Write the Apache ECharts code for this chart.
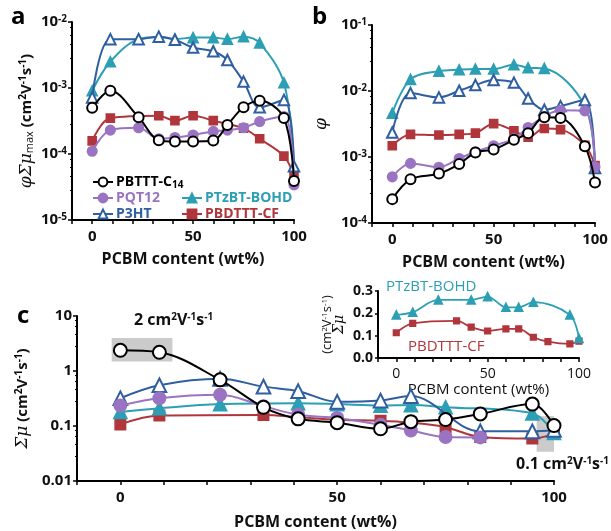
<!DOCTYPE html>
<html lang="en">
<head>
    <meta charset="UTF-8">
    <title>PCBM blends</title>
    <script src="https://cdn.jsdelivr.net/npm/echarts@6/dist/echarts.min.js"></script>
</head>
<body style="padding: 0; margin: 0; background: #fff">
<div id="main" style="width: 611px; height: 531px;"></div>
<script>
    // PCBM content (wt%) shared by every panel
    var pcbm = [0, 9, 23, 33, 41, 50, 60, 67, 75, 83, 95, 100];

    // panel a : phi * sum(mu) max
    var aPBTTT = [5.0e-4, 9.1e-4, 3.6e-4, 1.62e-4, 1.55e-4, 1.55e-4, 1.6e-4, 2.75e-4, 5.1e-4, 6.4e-4, 3.5e-4, 3.9e-5];
    var aPQT12 = [1.1e-4, 2.3e-4, 2.5e-4, 1.7e-4, 1.78e-4, 1.94e-4, 2.2e-4, 2.3e-4, 2.5e-4, 3.1e-4, 3.7e-4, 3.4e-5];
    var aP3HT = [7.2e-4, 5.5e-3, 5.5e-3, 6.0e-3, 5.4e-3, 4.1e-3, 3.6e-3, 2.65e-3, 1.25e-3, 5.1e-4, 6.6e-4, 6.5e-5];
    var aPTzBT = [9.1e-4, 2.5e-3, 5.5e-3, 5.9e-3, 5.5e-3, 5.8e-3, 5.8e-3, 5.5e-3, 6.0e-3, 4.8e-3, 1.2e-3, 6.5e-5];
    var aPBDTTT = [1.58e-4, 3.5e-4, null, 3.8e-4, 3.2e-4, 3.8e-4, 3.2e-4, null, 2.45e-4, 1.7e-4, 9.3e-5, 4.7e-5];

    // panel b : phi
    var bPBTTT = [2.3e-4, 4.6e-4, 5.6e-4, 7.8e-4, 1.17e-3, 1.3e-3, 1.82e-3, 2.3e-3, 4.0e-3, 3.9e-3, 1.45e-3, 4.1e-4];
    var bPQT12 = [5.0e-4, 8.0e-4, 7.0e-4, 9.5e-4, 1.2e-3, 1.48e-3, 1.9e-3, 2.8e-3, 4.1e-3, 5.1e-3, 5.0e-3, 7.1e-4];
    var bP3HT = [2.35e-3, 9.3e-3, 8.0e-3, 1.01e-2, 1.23e-2, 1.47e-2, 1.34e-2, 7.7e-3, 5.2e-3, 5.9e-3, 7.3e-3, 6.8e-4];
    var bPTzBT = [4.6e-3, 1.5e-2, 2.0e-2, 2.1e-2, 2.15e-2, 2.15e-2, 2.5e-2, 2.25e-2, 2.2e-2, null, 5.9e-3, 6.8e-4];
    var bPBDTTT = [1.48e-3, 2.2e-3, 2.15e-3, 2.2e-3, 2.3e-3, 3.2e-3, 2.5e-3, 2.0e-3, 2.7e-3, 2.6e-3, 1.5e-3, 7.4e-4];

    // panel c : sum(mu)
    var cPBTTT = [2.38, 2.19, 0.69, 0.219, 0.135, 0.115, 0.089, 0.12, 0.131, 0.166, 0.25, 0.102];
    var cPQT12 = [0.235, 0.32, 0.37, 0.23, 0.16, 0.14, 0.105, 0.083, 0.063, 0.062, null, null];
    var cP3HT = [0.32, 0.55, 0.72, 0.52, 0.43, 0.275, 0.29, 0.35, null, 0.08, 0.08, 0.085];
    var cPTzBT = [0.18, 0.21, 0.25, null, 0.26, 0.25, 0.235, 0.24, 0.22, null, 0.17, 0.075];
    var cPBDTTT = [0.107, 0.155, null, 0.159, 0.145, 0.13, 0.125, 0.115, 0.095, 0.063, 0.059, 0.072];

    // inset (linear)
    var iPTzBT = [0.193, 0.205, 0.26, null, 0.26, 0.275, 0.227, 0.227, 0.25, null, 0.193, 0.088];
    var iPBDTTT = [0.113, 0.155, null, 0.166, 0.138, 0.121, 0.130, 0.130, 0.093, 0.073, 0.063, 0.076];

    // grey highlight boxes in panel c  [x0, y0, x1, y1]
    var boxes = [[-2, 4.0, 12, 1.49], [96, 0.151, 103, 0.034]];

    var names = ['PBTTT-C14', 'PQT12', 'P3HT', 'PTzBT-BOHD', 'PBDTTT-CF'];
    var sty = {
        'PBTTT-C14': {color: '#000000', symbol: 'emptyCircle', size: 1.0},
        'PQT12': {color: '#9a74c2', symbol: 'circle', size: 0.95},
        'P3HT': {color: '#2f5fa0', symbol: 'emptyTriangle', size: 1.05},
        'PTzBT-BOHD': {color: '#2c9fb4', symbol: 'triangle', size: 1.0},
        'PBDTTT-CF': {color: '#b0363c', symbol: 'rect', size: 0.8}
    };

    var F = 'Open Sans';
    var sup = {fontSize: 10, fontWeight: 'bold', fontFamily: F, verticalAlign: 'top', lineHeight: 10};

    function pairs(ys) {
        return pcbm.map(function (x, i) { return [x, ys[i]]; }).filter(function (p) { return p[1] != null; });
    }

    function mk(name, ys, g, msize, extra) {
        var s = sty[name];
        var o = {
            name: name, type: 'line', xAxisIndex: g, yAxisIndex: g,
            data: pairs(ys), smooth: 0.35, symbol: s.symbol,
            symbolSize: msize * s.size, showSymbol: true,
            lineStyle: {color: s.color, width: 2},
            itemStyle: {color: s.color, borderColor: s.color, borderWidth: 1.6},
            z: 2 + names.length - names.indexOf(name)
        };
        if (extra) for (var k in extra) o[k] = extra[k];
        return o;
    }

    function xAx(g, fs, nameGap, bold) {
        return {
            gridIndex: g, type: 'value', min: -10, max: 100, interval: 10,
            name: 'PCBM content (wt%)', nameLocation: 'middle', nameGap: nameGap,
            nameTextStyle: {fontFamily: F, fontSize: fs + 1, fontWeight: bold ? 'bold' : 'normal', color: '#111'},
            axisLine: {onZero: false, lineStyle: {color: '#000', width: 2}},
            axisTick: {length: 4, lineStyle: {color: '#000', width: 1.5}},
            axisLabel: {
                margin: 9, fontFamily: F, fontSize: fs, fontWeight: bold ? 'bold' : 'normal', color: '#111',
                formatter: function (v) { return (v === 0 || v === 50 || v === 100) ? String(v) : ''; }
            },
            splitLine: {show: false}
        };
    }

    function yLog(g, mn, mx, fmt, nm, gap) {
        return {
            gridIndex: g, type: 'log', logBase: 10, min: mn, max: mx,
            name: nm, nameLocation: 'middle', nameGap: gap,
            axisLine: {onZero: false, lineStyle: {color: '#000', width: 2}},
            axisTick: {length: 4, lineStyle: {color: '#000', width: 1.5}},
            minorTick: {show: true, splitNumber: 5, length: 2, lineStyle: {color: '#000', width: 1}},
            axisLabel: {margin: 5, fontFamily: F, fontSize: 15, fontWeight: 'bold', color: '#111', formatter: fmt,
                rich: {s: sup}},
            splitLine: {show: false}
        };
    }

    function powFmt(v) {
        var e = Math.round(Math.log(v) / Math.LN10);
        return '10{s|' + e + '}';
    }
    function plainFmt(v) {
        var e = Math.round(Math.log(v) / Math.LN10);
        return e >= 0 ? String(Math.pow(10, e)) : Math.pow(10, e).toFixed(-e);
    }

    var myChart = echarts.init(document.getElementById('main'));

    var series = [];
    var panelA = [aPBTTT, aPQT12, aP3HT, aPTzBT, aPBDTTT];
    var panelB = [bPBTTT, bPQT12, bP3HT, bPTzBT, bPBDTTT];
    var panelC = [cPBTTT, cPQT12, cP3HT, cPTzBT, cPBDTTT];
    names.forEach(function (n, i) {
        series.push(mk(n, panelA[i], 0, 10));
        series.push(mk(n, panelB[i], 1, 10));
        var extra = null;
        if (i === 0) {
            extra = {
                markArea: {
                    silent: true,
                    itemStyle: {color: 'rgba(185,185,185,0.75)'},
                    data: boxes.map(function (b) { return [{xAxis: b[0], yAxis: b[1]}, {xAxis: b[2], yAxis: b[3]}]; })
                }
            };
        }
        series.push(mk(n, panelC[i], 2, 13, extra));
    });
    series.push(mk('PTzBT-BOHD', iPTzBT, 3, 8, {lineStyle: {color: sty['PTzBT-BOHD'].color, width: 1.8}}));
    series.push(mk('PBDTTT-CF', iPBDTTT, 3, 7, {lineStyle: {color: sty['PBDTTT-CF'].color, width: 1.8}}));

    var big = {fontFamily: F, fontSize: 15, fontWeight: 'bold', color: '#111'};
    var it = {fontFamily: 'DejaVu Serif', fontStyle: 'italic', fontSize: 17, color: '#111'};

    // one legend per entry so each row sits where the reference has it
    var legendPos = [
        ['PBTTT-C14', 87, 169], ['PQT12', 87, 185], ['P3HT', 87, 201],
        ['PTzBT-BOHD', 176, 185], ['PBDTTT-CF', 176, 201]
    ];
    var legends = legendPos.map(function (p) {
        return {
            left: p[1], top: p[2], itemWidth: 20, itemHeight: 11, selectedMode: false,
            data: [{name: p[0], textStyle: {color: sty[p[0]].color}}],
            textStyle: {fontFamily: F, fontSize: 14, fontWeight: 'bold', lineHeight: 16, padding: [0, 0, 0, -2],
                rich: {sub: {fontFamily: F, fontSize: 10, fontWeight: 'bold', verticalAlign: 'bottom', lineHeight: 10}}},
            formatter: function (n) { return n === 'PBTTT-C14' ? 'PBTTT-C{sub|14}' : n; }
        };
    });

    option = {
        animation: false,
        backgroundColor: '#fff',
        grid: [
            {left: 72, top: 22, width: 222, height: 198},
            {left: 372, top: 25, width: 223, height: 198},
            {left: 77, top: 316, width: 477, height: 167},
            {left: 378, top: 291, width: 201, height: 67}
        ],
        legend: legends,
        xAxis: [xAx(0, 15, 31, true), xAx(1, 15, 31, true), xAx(2, 15, 33, true), xAx(3, 14, 15, false)],
        yAxis: [
            Object.assign(yLog(0, 1e-5, 1e-2, powFmt,
                '{i|φΣμ}{m|max}{b| (cm}{s|2}{b|V}{s|-1}{b|s}{s|-1}{b|)}', 37), {
                nameTextStyle: {rich: {i: it, m: {fontFamily: F, fontSize: 11, color: '#111', verticalAlign: 'bottom', lineHeight: 12}, b: big, s: sup}}
            }),
            Object.assign(yLog(1, 1e-4, 1e-1, powFmt, '{i|φ}', 42), {
                nameTextStyle: {rich: {i: it}}
            }),
            Object.assign(yLog(2, 0.01, 10, plainFmt,
                '{i|Σμ}{b| (cm}{s|2}{b|V}{s|-1}{b|s}{s|-1}{b|)}', 40), {
                nameTextStyle: {rich: {i: it, b: big, s: sup}}
            }),
            {
                gridIndex: 3, type: 'value', min: 0, max: 0.3, interval: 0.1,
                name: '{b|(cm}{s|2}{b|V}{s|-1}{b|s}{s|-1}{b|)}\n{i|Σμ}', nameLocation: 'middle', nameGap: 33,
                nameTextStyle: {rich: {
                    i: {fontFamily: 'DejaVu Serif', fontStyle: 'italic', fontSize: 14, color: '#111', lineHeight: 12},
                    b: {fontFamily: F, fontSize: 13, color: '#111', lineHeight: 12},
                    s: {fontFamily: F, fontSize: 8, color: '#111', verticalAlign: 'top', lineHeight: 8}
                }},
                axisLine: {show: true, onZero: false, lineStyle: {color: '#000', width: 2}},
                axisTick: {show: true, length: 3, lineStyle: {color: '#000', width: 1.5}},
                axisLabel: {margin: 5, fontFamily: F, fontSize: 14, fontWeight: 'bold', color: '#111',
                    formatter: function (v) { return v.toFixed(1); }},
                splitLine: {show: false}
            }
        ],
        graphic: [
            {type: 'text', left: 11, top: 5, style: {text: 'a', font: 'bold 24px "Open Sans"', fill: '#000'}},
            {type: 'text', left: 312, top: 5, style: {text: 'b', font: 'bold 24px "Open Sans"', fill: '#000'}},
            {type: 'text', left: 17, top: 304, style: {text: 'c', font: 'bold 24px "Open Sans"', fill: '#000'}},
            {type: 'text', left: 134, top: 312, style: {
                text: '{b|2 cm}{s|2}{b|V}{s|-1}{b|s}{s|-1}',
                rich: {b: {font: 'bold 16px "Open Sans"', fill: '#111'}, s: {font: 'bold 10px "Open Sans"', fill: '#111', verticalAlign: 'top', lineHeight: 10}}
            }},
            {type: 'text', right: 2, top: 456, style: {
                text: '{b|0.1 cm}{s|2}{b|V}{s|-1}{b|s}{s|-1}',
                rich: {b: {font: 'bold 16px "Open Sans"', fill: '#111'}, s: {font: 'bold 10px "Open Sans"', fill: '#111', verticalAlign: 'top', lineHeight: 10}}
            }},
            {type: 'text', left: 386, top: 279, style: {text: 'PTzBT-BOHD', font: '15px "Open Sans"', fill: '#2c9fb4'}},
            {type: 'text', left: 408, top: 339, style: {text: 'PBDTTT-CF', font: '15px "Open Sans"', fill: '#b0363c'}}
        ],
        series: series
    };
    myChart.setOption(option);
</script>
</body>
</html>
